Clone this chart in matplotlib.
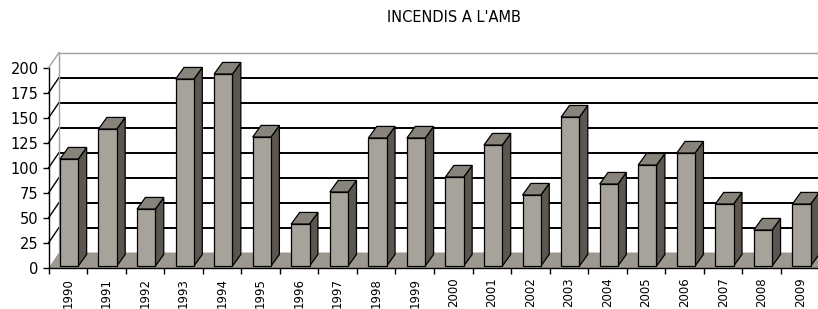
import matplotlib
matplotlib.use("Agg")
import matplotlib.pyplot as plt
from matplotlib.patches import Polygon

title = "INCENDIS A L'AMB"
years = ["1990", "1991", "1992", "1993", "1994", "1995", "1996", "1997", "1998", "1999",
         "2000", "2001", "2002", "2003", "2004", "2005", "2006", "2007", "2008", "2009"]
fires = [107, 137, 57, 187, 192, 129, 42, 74, 128, 128,
         89, 121, 71, 149, 82, 101, 113, 62, 36, 62]
yticks = [0, 25, 50, 75, 100, 125, 150, 175, 200]

W, H = 818, 309
fig = plt.figure(figsize=(W / 100, H / 100), dpi=100)
fig.patch.set_facecolor("white")

ncat = len(years)
px_per_cat = 38.55
left_px, bottom_px = 48.5, 41.0
ax = fig.add_axes([left_px / W, bottom_px / H, ncat * px_per_cat / W, 200 / H])
ax.set_xlim(0, ncat)
ax.set_ylim(0, 200)
ax.set_facecolor("none")

# oblique depth of the chart box (data units)
dxw = 10.5 / px_per_cat
dyw = 15.5

front_col = "#a7a39b"
top_col = "#88847c"
side_col = "#5b5750"
floor_col = "#9c988f"

# floor
ax.add_patch(Polygon([(0, 0), (ncat, 0), (ncat + dxw, dyw), (dxw, dyw)],
                     closed=True, facecolor=floor_col, edgecolor="none",
                     zorder=1, clip_on=False))
# back wall gridlines and side wall lines
for v in yticks[1:]:
    col = "#a0a0a0" if v == yticks[-1] else "black"
    lw = 1.0 if v == yticks[-1] else 1.4
    ax.plot([dxw, ncat + dxw], [v + dyw, v + dyw], color=col, lw=lw,
            zorder=2, clip_on=False, solid_capstyle="butt")
    ax.plot([0, dxw], [v, v + dyw], color=col, lw=1.0, zorder=2, clip_on=False)
ax.plot([dxw, dxw], [dyw, yticks[-1] + dyw], color="#a0a0a0", lw=1.0,
        zorder=2, clip_on=False)

# bars
d0 = 0.125
bw = 0.475
bdx = 0.8 * dxw
bdy = 0.75 * dyw
for i, v in enumerate(fires):
    xl = i + 0.5 - bw / 2 + d0 * dxw
    xr = xl + bw
    y0 = d0 * dyw
    yt = y0 + v
    ax.add_patch(Polygon([(xr, y0), (xr + bdx, y0 + bdy), (xr + bdx, yt + bdy), (xr, yt)],
                         closed=True, facecolor=side_col, edgecolor="black",
                         lw=0.9, zorder=4, clip_on=False))
    ax.add_patch(Polygon([(xl, yt), (xr, yt), (xr + bdx, yt + bdy), (xl + bdx, yt + bdy)],
                         closed=True, facecolor=top_col, edgecolor="black",
                         lw=0.9, zorder=4, clip_on=False))
    ax.add_patch(Polygon([(xl, y0), (xr, y0), (xr, yt), (xl, yt)],
                         closed=True, facecolor=front_col, edgecolor="black",
                         lw=0.9, zorder=5, clip_on=False))

# axes
for s in ["top", "right"]:
    ax.spines[s].set_visible(False)
for s in ["left", "bottom"]:
    ax.spines[s].set_color("black")
    ax.spines[s].set_linewidth(1.0)
    ax.spines[s].set_zorder(6)

ax.set_yticks(yticks)
ax.set_yticklabels([str(t) for t in yticks], fontsize=10.5, family="DejaVu Sans")
ax.tick_params(axis="y", length=4, width=1.0, pad=3, colors="black")

ax.set_xticks([i + 0.5 for i in range(ncat)])
ax.set_xticklabels(years, rotation=90, fontsize=8.5, family="DejaVu Sans")
ax.set_xticks(range(ncat + 1), minor=True)
ax.tick_params(axis="x", which="major", length=0, pad=7)
ax.tick_params(axis="x", which="minor", length=4, width=1.0)

fig.text(454 / W, 1 - 18 / H, title, ha="center", va="center",
         fontsize=10.5, family="DejaVu Sans")

fig.savefig("out.png", dpi=100)
